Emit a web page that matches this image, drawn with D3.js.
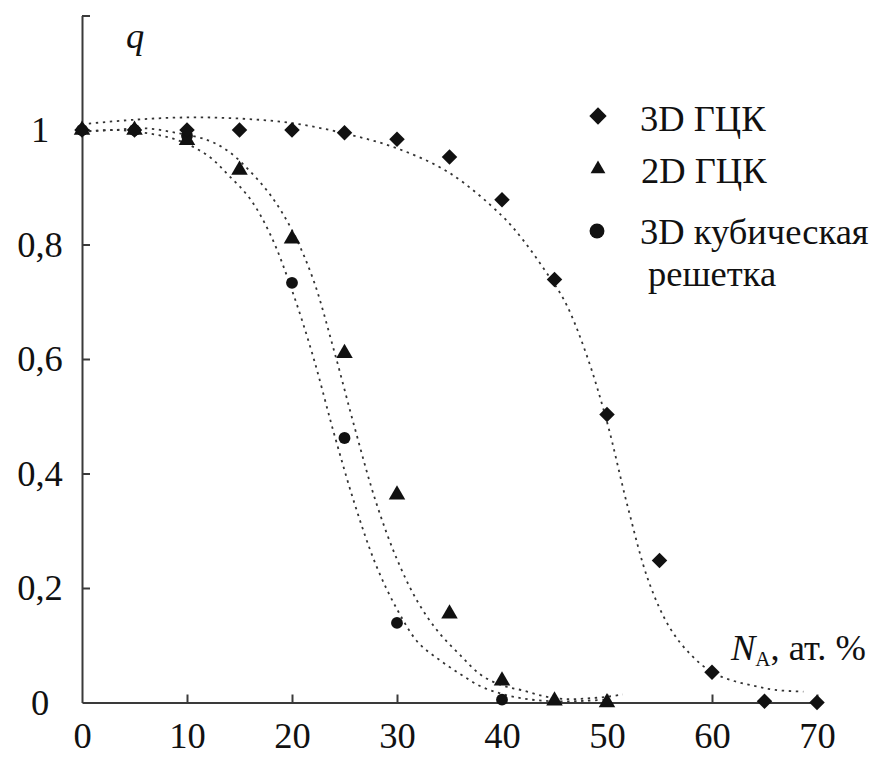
<!DOCTYPE html>
<html>
<head>
<meta charset="utf-8">
<script src="https://cdn.jsdelivr.net/npm/d3@7/dist/d3.min.js"></script>
<style>
  html, body { margin: 0; padding: 0; background: #fff; }
  svg { display: block; }
  text { font-family: "Liberation Serif", "Times New Roman", "DejaVu Serif", serif; fill: #111; }
</style>
</head>
<body>
<svg id="chart" width="873" height="757"></svg>
<script>
// Concentration of A atoms, at. %
const xTicks = [0, 10, 20, 30, 40, 50, 60, 70];
const yTicks = [0, 0.2, 0.4, 0.6, 0.8, 1, 1.2];
const yTickLabels = ["0", "0,2", "0,4", "0,6", "0,8", "1", ""];

// Measured points, q vs N_A
const fcc3dX = [0, 5, 10, 15, 20, 25, 30, 35, 40, 45, 50, 55, 60, 65, 70];
const fcc3dQ = [1, 1, 1, 1, 1, 0.995, 0.984, 0.953, 0.878, 0.739, 0.503, 0.248, 0.053, 0.002, 0];

const fcc2dX = [0, 5, 10, 15, 20, 25, 30, 35, 40, 45, 50];
const fcc2dQ = [1, 1, 0.982, 0.93, 0.81, 0.61, 0.363, 0.155, 0.038, 0.003, 0];

const cubicX = [0, 5, 10, 20, 25, 30, 40];
const cubicQ = [1, 1, 0.99, 0.733, 0.462, 0.139, 0.005];

// Trend curves (dotted)
const fcc3dTrendX = [0, 5, 10, 15, 20, 25, 30, 35, 40, 42, 44, 46, 48, 50, 52, 54, 56, 58, 60, 62, 64, 66, 68.7];
const fcc3dTrendQ = [1.010, 1.018, 1.022, 1.020, 1.012, 0.994, 0.968, 0.925, 0.850, 0.808, 0.757, 0.700, 0.610, 0.490, 0.340, 0.210, 0.130, 0.083, 0.053, 0.038, 0.029, 0.022, 0.019];

const fcc2dTrendX = [0, 3, 6, 9, 12, 14, 16, 18, 20, 22, 24, 26, 28, 30, 32, 34, 36, 38, 40, 42, 44, 46, 48, 50, 51.5];
const fcc2dTrendQ = [0.997, 1.0, 1.003, 0.995, 0.982, 0.962, 0.928, 0.885, 0.825, 0.740, 0.615, 0.478, 0.350, 0.250, 0.175, 0.122, 0.083, 0.048, 0.030, 0.021, 0.011, 0.006, 0.007, 0.010, 0.014];

const cubicTrendX = [0, 3, 6, 9, 12, 14, 16, 18, 20, 22, 24, 26, 28, 30, 32, 34, 36, 38, 40, 42, 44, 46, 48, 50];
const cubicTrendQ = [0.997, 1.0, 0.995, 0.983, 0.955, 0.920, 0.880, 0.815, 0.720, 0.605, 0.470, 0.345, 0.240, 0.163, 0.105, 0.075, 0.050, 0.028, 0.015, 0.007, 0.003, 0.002, 0.003, 0.005];

const legendLabels = ["3D ГЦК", "2D ГЦК", "3D кубическая", "решетка"];

const svg = d3.select("#chart");
const FONT = 36.5;
const SERIF = "'Liberation Serif', 'Times New Roman', 'DejaVu Serif', serif";

const x = d3.scaleLinear().domain([0, 70]).range([82, 817]);
const y = d3.scaleLinear().domain([0, 1.2]).range([702.5, 15.5]);

const axisColor = "#3a3a3a";

// X axis, ticks pointing inward (up)
const xAxis = svg.append("g")
  .attr("transform", `translate(0,${y(0)})`)
  .call(d3.axisBottom(x).tickValues(xTicks).tickSizeInner(-8).tickSizeOuter(0).tickPadding(20).tickFormat(d3.format("d")));

// Y axis, ticks pointing inward (right); labels centred in the left margin
const yAxis = svg.append("g")
  .attr("transform", `translate(${x(0)},0)`)
  .call(d3.axisLeft(y).tickValues(yTicks).tickSizeInner(-8).tickSizeOuter(0).tickPadding(42)
    .tickFormat((d, i) => yTickLabels[i]));
yAxis.selectAll(".tick text").attr("text-anchor", "middle");

[xAxis, yAxis].forEach(g => {
  g.attr("font-family", SERIF).attr("font-size", FONT);
  g.select(".domain").attr("stroke", axisColor).attr("stroke-width", 2);
  g.selectAll(".tick line").attr("stroke", axisColor).attr("stroke-width", 2);
  g.selectAll(".tick text").attr("fill", "#111");
});
xAxis.select(".tick:first-of-type line").remove();
yAxis.select(".tick:first-of-type line").remove();

// Dotted trend curves
const line = d3.line()
  .x(d => x(d[0]))
  .y(d => y(d[1]))
  .curve(d3.curveCatmullRom.alpha(0.5));

const trends = [
  d3.zip(fcc3dTrendX, fcc3dTrendQ),
  d3.zip(fcc2dTrendX, fcc2dTrendQ),
  d3.zip(cubicTrendX, cubicTrendQ)
];
svg.append("g").selectAll("path")
  .data(trends)
  .join("path")
  .attr("d", line)
  .attr("fill", "none")
  .attr("stroke", "#333")
  .attr("stroke-width", 1.8)
  .attr("stroke-dasharray", "2.4,4.6");

// Markers
const diamond = d3.symbol().type(d3.symbolSquare).size(120)();
const triangle = d3.symbol().type(d3.symbolTriangle).size(118)();
const circle = d3.symbol().type(d3.symbolCircle).size(110)();

function drawSeries(xs, qs, path, rotate) {
  svg.append("g").selectAll("path")
    .data(d3.zip(xs, qs))
    .join("path")
    .attr("d", path)
    .attr("transform", d => `translate(${x(d[0])},${y(d[1])})` + (rotate ? " rotate(45)" : ""))
    .attr("fill", "#111");
}
drawSeries(cubicX, cubicQ, circle, false);
drawSeries(fcc2dX, fcc2dQ, triangle, false);
drawSeries(fcc3dX, fcc3dQ, diamond, true);

// Axis titles
svg.append("text")
  .attr("x", 126).attr("y", 48)
  .attr("font-family", SERIF)
  .attr("font-size", FONT)
  .attr("font-style", "italic")
  .text("q");

const nTitle = svg.append("text")
  .attr("x", 731).attr("y", 660)
  .attr("font-family", SERIF)
  .attr("font-size", FONT);
nTitle.append("tspan").attr("font-style", "italic").text("N");
nTitle.append("tspan").attr("font-size", 21).attr("dy", 6).text("A");
nTitle.append("tspan").attr("dy", -6).text(", ат. %");

// Legend
const legend = svg.append("g");
legend.append("path")
  .attr("d", d3.symbol().type(d3.symbolSquare).size(150)())
  .attr("transform", "translate(598,116) rotate(45)")
  .attr("fill", "#111");
legend.append("path")
  .attr("d", d3.symbol().type(d3.symbolTriangle).size(95)())
  .attr("transform", "translate(598,169)")
  .attr("fill", "#111");
legend.append("path")
  .attr("d", d3.symbol().type(d3.symbolCircle).size(175)())
  .attr("transform", "translate(597,231)")
  .attr("fill", "#111");

const legendPos = [[640, 131], [641, 183], [640, 244], [648, 286]];
legend.selectAll("text")
  .data(legendLabels)
  .join("text")
  .attr("x", (d, i) => legendPos[i][0])
  .attr("y", (d, i) => legendPos[i][1])
  .attr("font-family", SERIF)
  .attr("font-size", FONT)
  .text(d => d);
</script>
</body>
</html>
